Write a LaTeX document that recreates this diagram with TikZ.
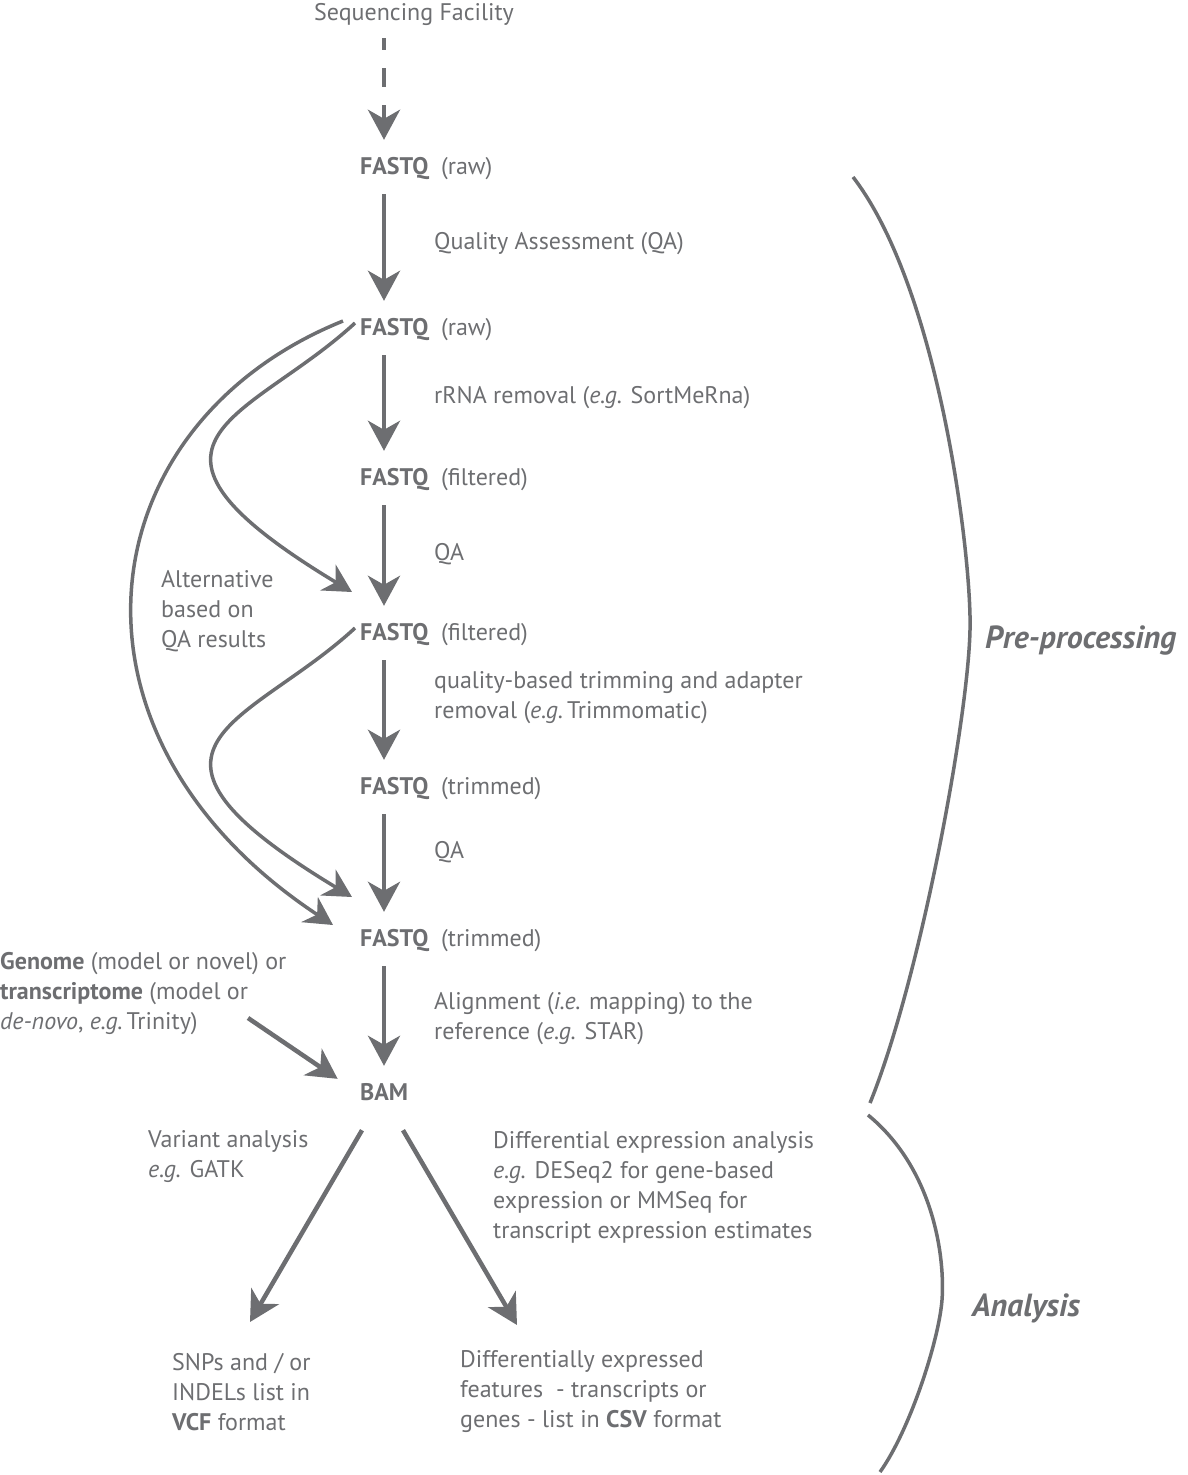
\documentclass[tikz,border=0pt]{standalone}
\usepackage{fontspec}
\setmainfont{PT Sans}
\usepackage{tikz}
\usetikzlibrary{arrows.meta}
\definecolor{flowgray}{HTML}{6D6E71}
\tikzset{
    tnode/.style = {align=left, inner sep=0pt, text=flowgray, font=\fontsize{24}{30}\selectfont},
    file_node/.style = {tnode, anchor=west, text height=17pt, text depth=5pt},
    step_label/.style = {tnode, anchor=west},
    phase_label/.style = {tnode, anchor=west, font=\fontsize{32}{36}\selectfont\bfseries\itshape},
    flow_arrow/.style = {draw=flowgray, line width=4.5pt, -{Stealth[length=30pt, width=32pt, inset=9pt]}, shorten <=15pt, shorten >=17pt},
    alt_arrow/.style = {draw=flowgray, line width=3.5pt, -{Stealth[length=28pt, width=30pt, inset=9pt]}},
    phase_brace/.style = {draw=flowgray, line width=3.5pt}
}
\begin{document}
\begin{tikzpicture}[x=1pt, y=-1pt]
    \useasboundingbox (0,0) rectangle (1187,1475);
    % files along the main line
    \node [tnode, anchor=center] (seq) at (414,14) {Sequencing Facility};
    \node [file_node] (fq1) at (360,168) {\textbf{FASTQ}\hspace{0.5em}(raw)};
    \node [file_node] (fq2) at (360,329) {\textbf{FASTQ}\hspace{0.5em}(raw)};
    \node [file_node] (fq3) at (360,479) {\textbf{FASTQ}\hspace{0.5em}(filtered)};
    \node [file_node] (fq4) at (360,634) {\textbf{FASTQ}\hspace{0.5em}(filtered)};
    \node [file_node] (fq5) at (360,788) {\textbf{FASTQ}\hspace{0.5em}(trimmed)};
    \node [file_node] (fq6) at (360,940) {\textbf{FASTQ}\hspace{0.5em}(trimmed)};
    \node [file_node] (bam) at (360,1094) {\textbf{BAM}};
    % step labels
    \node [step_label] (qa_raw) at (434,244) {Quality Assessment (QA)};
    \node [step_label] (rrna) at (434,398) {rRNA removal (\textit{e.g.} SortMeRna)};
    \node [step_label] (qa_filt) at (434,554) {QA};
    \node [step_label] (trim) at (434,698) {quality-based trimming and adapter\\removal (\textit{e.g.}\,Trimmomatic)};
    \node [step_label] (qa_trim) at (434,852) {QA};
    \node [step_label] (align) at (434,1019) {Alignment (\textit{i.e.} mapping) to the\\reference (\textit{e.g.} STAR)};
    \node [step_label] (alt) at (161,611) {Alternative\\based on\\QA results};
    \node [step_label] (genome) at (0,994) {\textbf{Genome} (model or novel) or\\\textbf{transcriptome} (model or\\\textit{de-novo}, \textit{e.g.}\,Trinity)};
    \node [step_label] (variant) at (148,1157) {Variant analysis\\\textit{e.g.} GATK};
    \node [step_label] (diffexp) at (493,1187) {Differential expression analysis\\\textit{e.g.} DESeq2 for gene-based\\expression or MMSeq for\\transcript expression estimates};
    \node [step_label] (snp) at (172,1392) {SNPs and / or\\INDELs list in\\\textbf{VCF} format};
    \node [step_label] (deg) at (460,1392) {Differentially expressed\\features\ \ - transcripts or\\genes - list in \textbf{CSV} format};
    \node [phase_label] (pre) at (985,641) {Pre-processing};
    \node [phase_label] (ana) at (972,1308) {Analysis};
    \coordinate (genome_out) at (248,1018);
    \coordinate (snp_in) at (250,1322);
    \coordinate (deg_in) at (517,1325);
    % arrows
    \draw [flow_arrow, dash pattern=on 19pt off 18pt, dash phase=7pt, shorten <=13pt] ([xshift=-30pt]seq.south) -- ([xshift=24pt]fq1.north west);
    \foreach \a/\b in {fq1/fq2, fq2/fq3, fq3/fq4, fq4/fq5, fq5/fq6, fq6/bam}
        \draw [flow_arrow] ([xshift=24pt]\a.south west) -- ([xshift=24pt]\b.north west);
    \draw [alt_arrow] ([shift={(-17pt,8pt)}]fq2.west) .. controls (85,425) and (45,735) .. ([shift={(-27pt,15pt)}]fq6.west);
    \draw [alt_arrow] ([shift={(-5pt,6pt)}]fq2.west) .. controls (250,420) and (100,440) .. ([shift={(-8pt,42pt)}]fq4.west);
    \draw [alt_arrow] ([shift={(-5pt,6pt)}]fq4.west) .. controls (250,725) and (100,745) .. ([shift={(-8pt,43pt)}]fq6.west);
    \draw [flow_arrow, shorten <=0pt, shorten >=27pt] (genome_out) -- (bam.west);
    \draw [flow_arrow, shorten <=0pt, shorten >=0pt] ([shift={(2pt,-25pt)}]bam.south west) -- (snp_in);
    \draw [flow_arrow, shorten <=0pt, shorten >=0pt] ([shift={(43pt,-25pt)}]bam.south west) -- (deg_in);
    % phase braces
    \draw [phase_brace] (853,177) .. controls (940,290) and (972,560) .. (970,630) .. controls (968,720) and (920,980) .. (870,1103);
    \draw [phase_brace] (868,1115) .. controls (935,1170) and (945,1260) .. (942,1300) .. controls (939,1340) and (910,1430) .. (880,1472);
\end{tikzpicture}
\end{document}
